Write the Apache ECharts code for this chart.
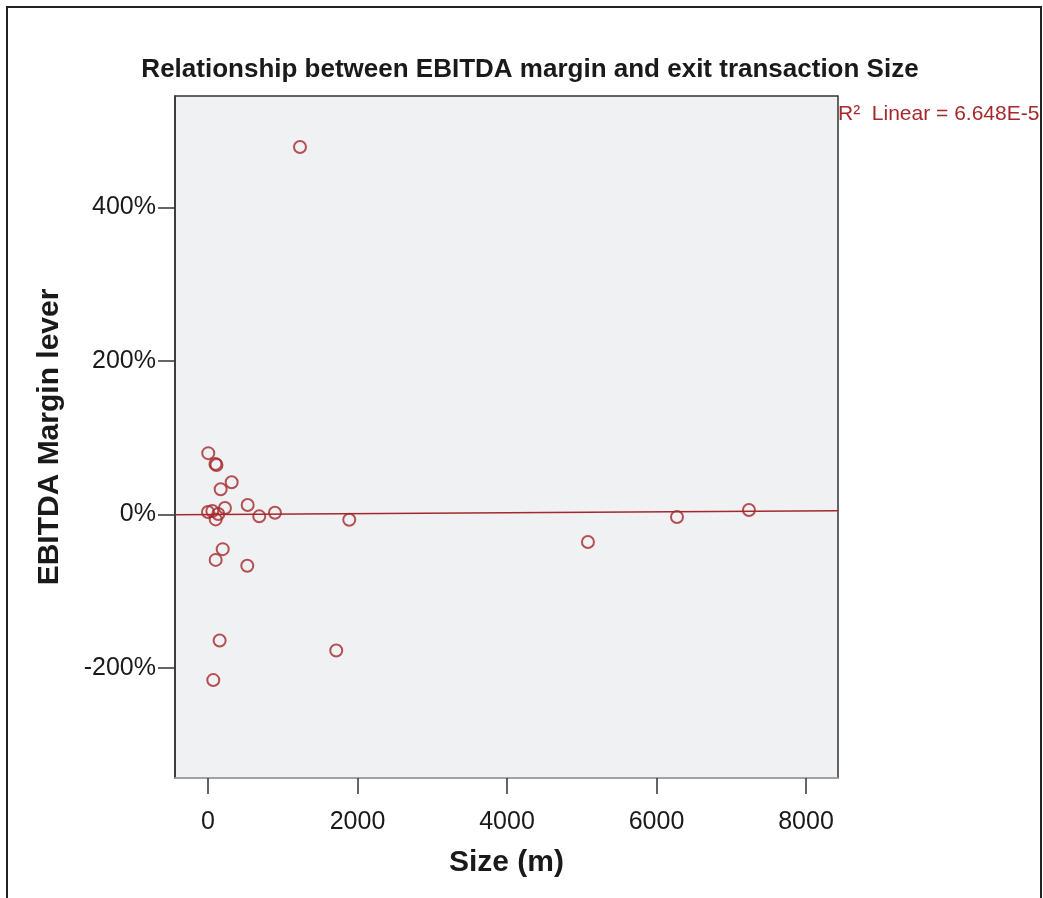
<!DOCTYPE html>
<html>
<head>
<meta charset="utf-8">
<script src="https://cdn.jsdelivr.net/npm/echarts@6/dist/echarts.min.js"></script>
<style>
html,body{margin:0;padding:0;background:#fff;}
#chart{width:1043px;height:898px;}
</style>
</head>
<body>
<div id="chart"></div>
<script>
// Size (m)
var sizeValues = [1231, 4, 100, 114, 317, 170, 531, 227, 0, 58, 138, 103, 686, 896, 1890, 197, 103, 526, 156, 1716, 71, 5083, 6274, 7237];
// EBITDA margin lever (%)
var marginValues = [478.5, 80, 66, 64.5, 42, 33, 12.4, 8.5, 3.3, 4.6, 0.7, -6.3, -2.3, 2.3, -6.8, -45, -59, -66.7, -164, -177, -215.5, -35.8, -3.2, 5.9];
// Linear fit (% = a + b * size)
var fitIntercept = 0.1;
var fitSlope = 0.000576;
var xTicks = [0, 2000, 4000, 6000, 8000];
var yTicks = [-200, 0, 200, 400];
var xMin = -441, xMax = 8428, yMin = -343, yMax = 545;
var r2Label = 'R\u00B2  Linear = 6.648E-5';
var titleText = 'Relationship between EBITDA margin and exit transaction Size';

var points = sizeValues.map(function (s, i) { return [s, marginValues[i]]; });
var fitLine = [[xMin, fitIntercept + fitSlope * xMin], [xMax, fitIntercept + fitSlope * xMax]];

var red = '#a5282c';
var font = "'Liberation Sans', Arial, Helvetica, sans-serif";

var chart = echarts.init(document.getElementById('chart'));
chart.setOption({
  animation: false,
  backgroundColor: '#ffffff',
  title: {
    text: titleText,
    left: 525,
    textAlign: 'center',
    top: 52,
    textStyle: { fontFamily: font, fontSize: 26, fontWeight: 'bold', color: '#1a1a1a' }
  },
  grid: {
    left: 175, right: 205, top: 96, bottom: 120,
    show: true,
    backgroundColor: '#f0f1f3',
    borderColor: '#333333',
    borderWidth: 1.5
  },
  xAxis: {
    type: 'value',
    min: xMin, max: xMax,
    name: 'Size (m)',
    nameLocation: 'middle',
    nameGap: 70,
    nameTextStyle: { fontFamily: font, fontSize: 30, fontWeight: 'bold', color: '#1a1a1a' },
    splitLine: { show: false },
    axisLine: { show: true, onZero: false, lineStyle: { color: '#b8b8b8', width: 1.5 } },
    axisTick: { show: true, length: 16, customValues: xTicks, lineStyle: { color: '#333333', width: 1.5 } },
    axisLabel: {
      customValues: xTicks,
      margin: 32,
      fontFamily: font, fontSize: 25, color: '#1a1a1a',
      formatter: function (v) { return String(v); }
    }
  },
  yAxis: {
    type: 'value',
    min: yMin, max: yMax,
    name: 'EBITDA Margin lever',
    nameLocation: 'middle',
    nameGap: 110,
    nameRotate: 90,
    nameTextStyle: { fontFamily: font, fontSize: 30, fontWeight: 'bold', color: '#1a1a1a' },
    splitLine: { show: false },
    axisLine: { show: true, onZero: false, lineStyle: { color: '#333333', width: 1.5 } },
    axisTick: { show: true, length: 17, customValues: yTicks, lineStyle: { color: '#333333', width: 1.5 } },
    axisLabel: {
      customValues: yTicks,
      margin: 19,
      fontFamily: font, fontSize: 25, color: '#1a1a1a',
      formatter: function (v) { return v + '%'; }
    }
  },
  series: [
    {
      type: 'line',
      data: fitLine,
      symbol: 'none',
      lineStyle: { color: red, width: 1.5 },
      z: 2
    },
    {
      type: 'scatter',
      data: points,
      symbol: 'circle',
      symbolSize: 12,
      itemStyle: { color: 'rgba(0,0,0,0)', borderColor: red, borderWidth: 2 },
      z: 3
    }
  ],
  graphic: [
    {
      type: 'rect',
      shape: { x: 7, y: 7, width: 1034, height: 1000 },
      style: { fill: 'none', stroke: '#222222', lineWidth: 2 },
      silent: true,
      z: 100
    },
    {
      type: 'text',
      left: 838,
      top: 104,
      style: { text: r2Label, fontFamily: font, fontSize: 21, fill: red },
      z: 101
    }
  ]
});
</script>
</body>
</html>
